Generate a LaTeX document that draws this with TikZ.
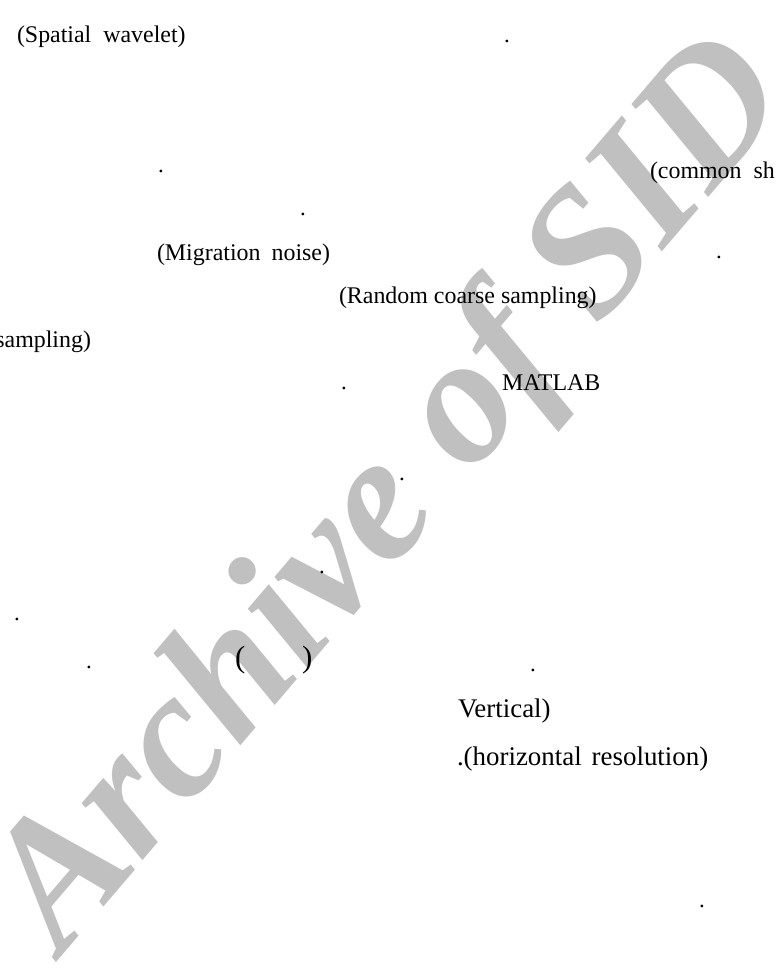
\documentclass[tikz,border=0pt]{standalone}
\usepackage{fontspec}
\setmainfont{Liberation Serif}
\newfontfamily\wmfont{Liberation Serif}[UprightFont={* Bold Italic}]
\definecolor{wmgray}{RGB}{192,192,192}
\begin{document}
\begin{tikzpicture}[x=1bp,y=-1bp,
  txt/.style={anchor=base west,inner sep=0pt,outer sep=0pt,font=\fontsize{24}{24}\selectfont},
  bigtxt/.style={txt,font=\fontsize{27}{27}\selectfont},
  dotmark/.style={anchor=base,inner sep=0pt,outer sep=0pt,font=\fontsize{23}{23}\selectfont},
  wm/.style={anchor=base west,inner sep=0pt,outer sep=0pt,text=wmgray,rotate=49.5,font=\wmfont\fontsize{182}{182}\selectfont}]
\useasboundingbox (0,0) rectangle (778,968);
\fill[white] (0,0) rectangle (778,968);
% watermark
\node[wm] (wmark) at (62,955) {Archive of SID};
% texts
\node[txt] (t1) at (17,42) {(Spatial\hspace{12bp}wavelet)};
\node[txt] (t2) at (650,178) {(common\hspace{12bp}sh};
\node[txt] (t3) at (157,260) {(Migration\hspace{11bp}noise)};
\node[txt] (t4) at (339,303) {(Random coarse sampling)};
\node[txt,anchor=base east] (t5) at (91,347) {sampling)};
\node[txt] (t6) at (502,390) {MATLAB};
\node[bigtxt] (t7) at (458,717) {Vertical)};
\node[bigtxt] (t8) at (457,765) {.(horizontal\hspace{10bp}resolution)};
\node[txt,font=\fontsize{31}{31}\selectfont] (p1) at (235,667) {(};
\node[txt,font=\fontsize{31}{31}\selectfont] (p2) at (302,667) {)};
% dots
\node[dotmark] (d1) at (161,172) {.};
\node[dotmark] (d2) at (507,42) {.};
\node[dotmark] (d3) at (303,215) {.};
\node[dotmark] (d4) at (344,389) {.};
\node[dotmark] (d5) at (719,258) {.};
\node[dotmark] (d6) at (322,573) {.};
\node[dotmark] (d7) at (17,620) {.};
\node[dotmark] (d8) at (89,668) {.};
\node[dotmark] (d9) at (402,480) {.};
\node[dotmark] (d10) at (533,671) {.};
\node[dotmark] (d11) at (702,907) {.};
\end{tikzpicture}
\end{document}
